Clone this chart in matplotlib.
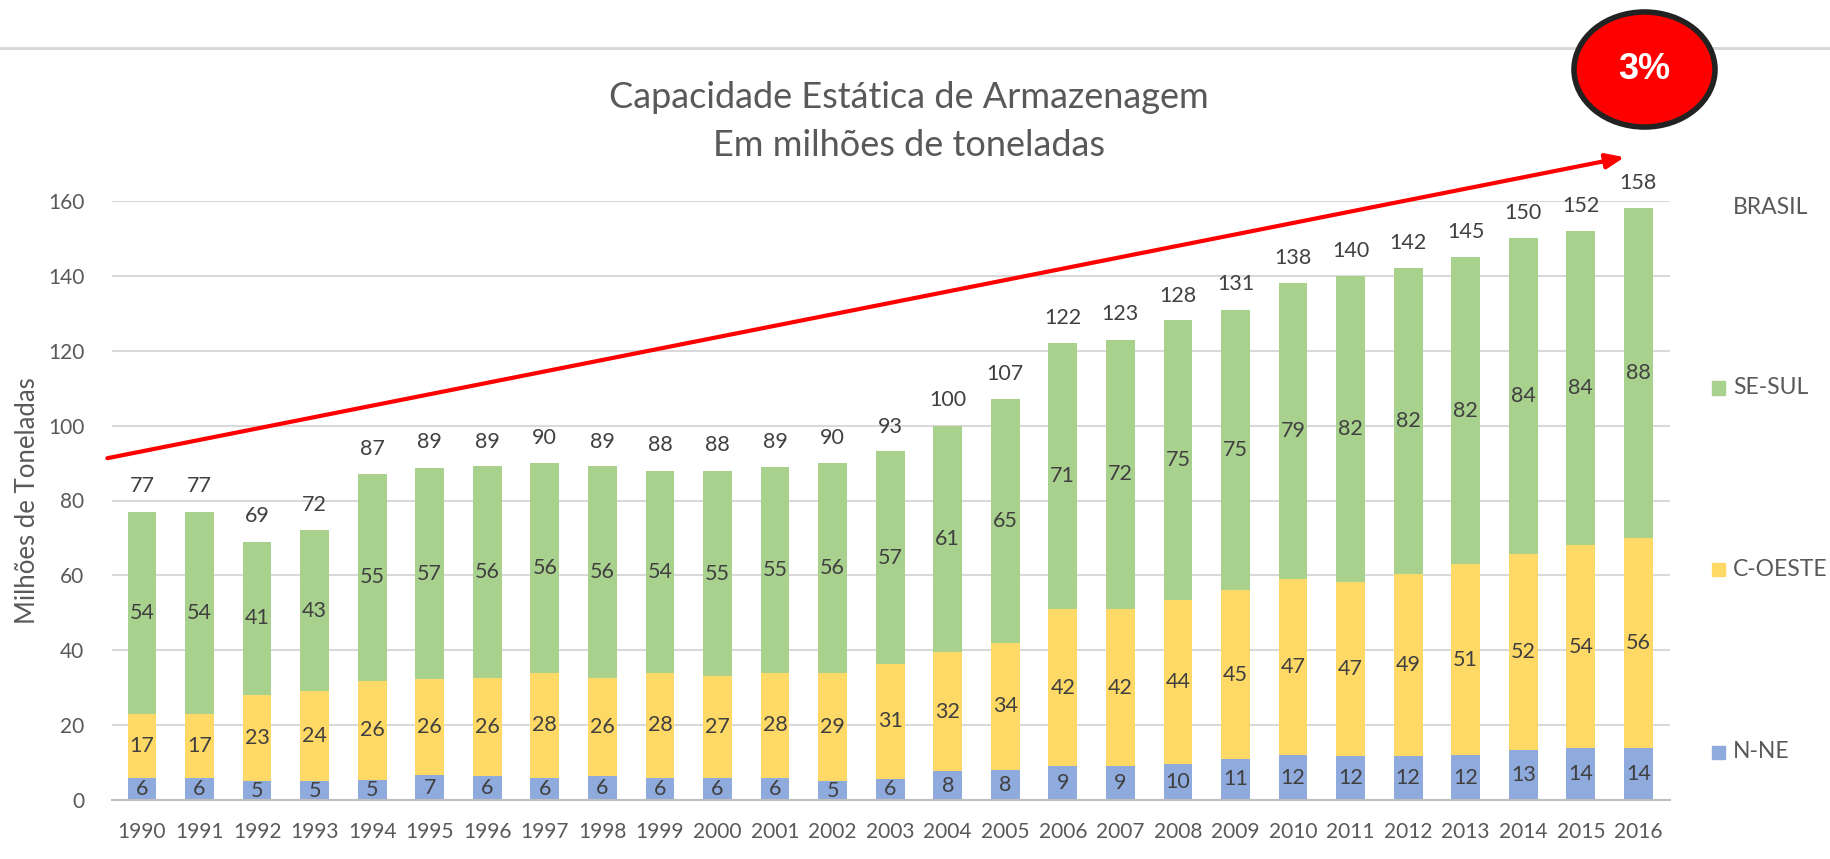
# Capacidade Estática de Armazenagem - stacked bars by region
import numpy as np
import matplotlib
matplotlib.use("Agg")
import matplotlib.pyplot as plt
from matplotlib.patches import Ellipse, Rectangle
from matplotlib.lines import Line2D

plt.rcParams['font.family'] = ['Lato', 'DejaVu Sans']

# Data (millions of tonnes)
years = list(range(1990, 2017))
n_ne = [6, 6, 5, 5, 5.4, 6.6, 6.3, 6, 6.3, 6, 6, 6, 5, 5.7, 7.7, 8, 9, 9, 9.7, 11, 12, 11.7, 11.8, 12, 13.3, 14, 14]
c_oeste = [17, 17, 23, 24, 26.4, 25.6, 26.4, 28, 26.4, 28, 27, 28, 29, 30.6, 31.7, 34, 42, 42, 43.6, 45, 47, 46.6, 48.6, 51, 52.4, 54, 56]
se_sul = [54, 54, 41, 43, 55.3, 56.6, 56.4, 56, 56.4, 54, 55, 55, 56, 56.8, 60.6, 65, 71, 72, 74.8, 75, 79, 81.6, 81.7, 82, 84.3, 84, 88]
brasil = [77, 77, 69, 72, 87, 89, 89, 90, 89, 88, 88, 89, 90, 93, 100, 107, 122, 123, 128, 131, 138, 140, 142, 145, 150, 152, 158]
growth = "3%"

series = [("N-NE", n_ne, "#8faadc"), ("C-OESTE", c_oeste, "#ffd966"), ("SE-SUL", se_sul, "#a9d18e")]

W, H = 1831, 859
fig = plt.figure(figsize=(W / 100, H / 100), dpi=100)
ax = fig.add_axes([112 / W, 1 - 800 / H, (1670 - 112) / W, (800 - 201) / H])

x = np.arange(len(years))
bottom = np.zeros(len(years))
for name, vals, col in series:
    vals = np.array(vals, dtype=float)
    ax.bar(x, vals, width=0.5, bottom=bottom, color=col, zorder=2)
    for xi, b, v in zip(x, bottom, vals):
        ax.text(xi, b + v / 2, f"{v:.0f}", ha="center", va="center",
                fontsize=15.5, color="#404040", zorder=3)
    bottom += vals

# totals (BRASIL series, invisible, labels only)
for xi, t in zip(x, brasil):
    ax.annotate(f"{t}", (xi, t), xytext=(0, 11), textcoords="offset points",
                ha="center", va="bottom", fontsize=15.5, color="#404040")

ax.set_xlim(-0.52, 26.55)
ax.set_ylim(0, 160)
ax.set_yticks(range(0, 161, 20))
ax.set_xticks(x)
ax.set_xticklabels([str(y) for y in years])
ax.tick_params(axis="both", length=0, labelsize=15, labelcolor="#595959")
ax.tick_params(axis="x", pad=16)
ax.tick_params(axis="y", pad=20)
ax.grid(axis="y", color="#d9d9d9", linewidth=1.5, zorder=0)
ax.set_axisbelow(True)
for s in ["top", "right", "left"]:
    ax.spines[s].set_visible(False)
ax.spines["bottom"].set_color("#bfbfbf")
ax.spines["bottom"].set_linewidth(1.5)
ax.set_ylabel("Milhões de Toneladas", fontsize=18.5, color="#595959")
ax.yaxis.set_label_coords(-(112 - 40) / (1670 - 112), 0.5)

# title
fig.text(909 / W, 1 - 97 / H, "Capacidade Estática de Armazenagem", ha="center", va="center",
         fontsize=26, color="#595959")
fig.text(909 / W, 1 - 146 / H, "Em milhões de toneladas", ha="center", va="center",
         fontsize=26, color="#595959")

# legend (manual)
leg = [("BRASIL", None, 207), ("SE-SUL", "#a9d18e", 388), ("C-OESTE", "#ffd966", 569), ("N-NE", "#8faadc", 752)]
for lab, col, yp in leg:
    fig.text(1733 / W, 1 - yp / H, lab, ha="left", va="center", fontsize=16.5, color="#595959")
    if col:
        fig.patches.append(Rectangle((1712 / W, 1 - (yp + 6.5) / H), 13 / W, 13 / H,
                                     transform=fig.transFigure, color=col))

# top separator line
fig.add_artist(Line2D([0, 1], [1 - 48 / H, 1 - 48 / H], transform=fig.transFigure,
                      color="#d6d6d6", linewidth=2, zorder=1))

# trend arrow
ax.annotate("", xy=(25.76, 171.7), xytext=(-0.6, 91.3), annotation_clip=False,
            arrowprops=dict(arrowstyle="-|>,head_length=1.1,head_width=0.45", color="#ff0000", lw=3,
                            shrinkA=0, shrinkB=0))

# growth badge
badge = Ellipse((1644.5 / W, 1 - 69.5 / H), 141 / W, 115 / H, transform=fig.transFigure,
                facecolor="#ff0000", edgecolor="#222222", linewidth=4, zorder=5)
fig.add_artist(badge)
fig.text(1644.5 / W, 1 - 69.5 / H, growth, ha="center", va="center", fontsize=26,
         fontweight="bold", color="white", family=["Liberation Sans", "DejaVu Sans"], zorder=6)

fig.savefig("out.png", dpi=100)
